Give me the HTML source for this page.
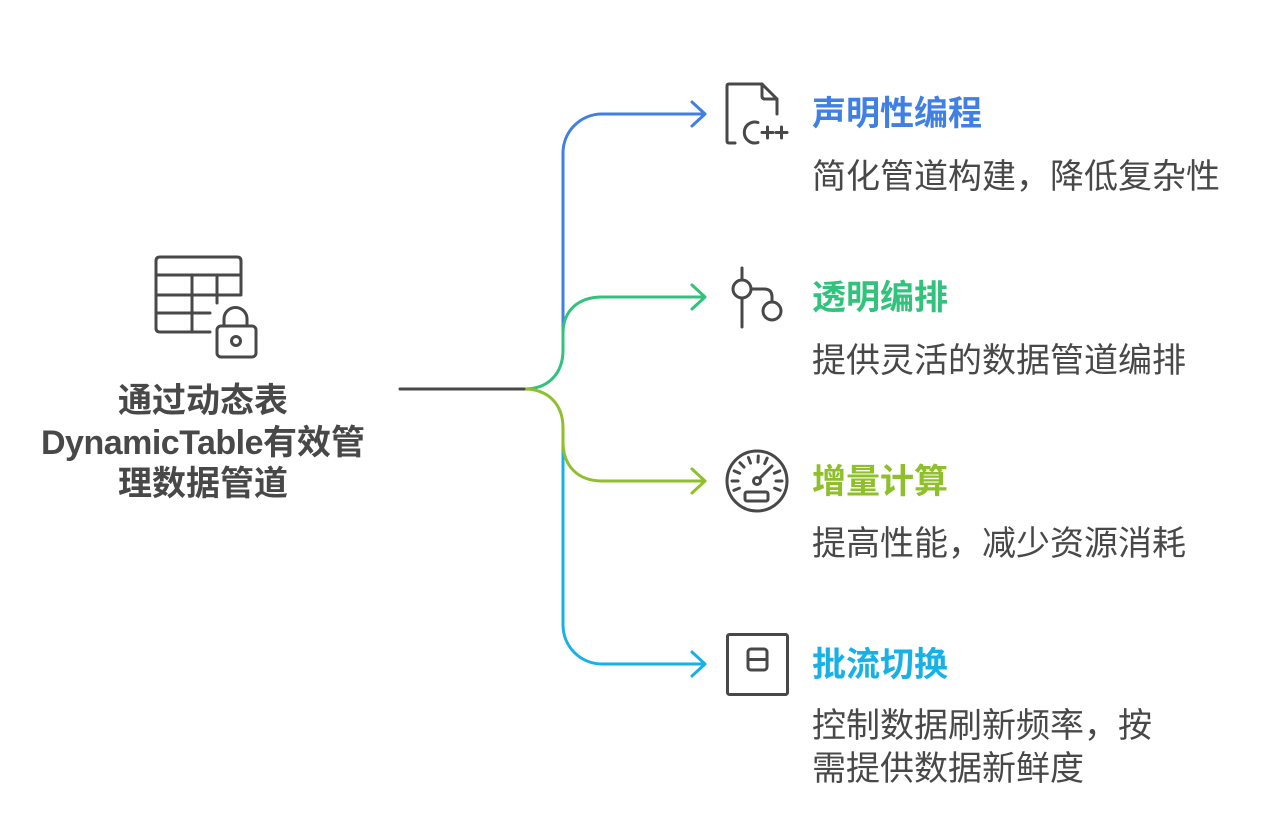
<!DOCTYPE html>
<html>
<head>
<meta charset="utf-8">
<style>
  html, body { margin:0; padding:0; background:#ffffff; }
  body { width:1280px; height:830px; position:relative; overflow:hidden;
         font-family:"Liberation Sans","Noto Sans CJK SC",sans-serif; }
  svg { position:absolute; left:0; top:0; }
  .t { position:absolute; font-size:34px; line-height:34px; white-space:nowrap;
       font-family:"Liberation Sans","Noto Sans CJK SC",sans-serif; }
  .title { font-weight:700; }
  .desc { color:#484848; font-weight:400; line-height:43px; }
  .center { position:absolute; left:23px; width:360px; text-align:center; top:381px;
            font-size:34px; line-height:41.5px; font-weight:700; color:#484848;
            font-family:"Liberation Sans","Noto Sans CJK SC",sans-serif; }
  .lat { letter-spacing:-0.5px; }
</style>
</head>
<body>
<svg width="1280" height="830" viewBox="0 0 1280 830" xmlns="http://www.w3.org/2000/svg">
  <g fill="none" stroke-width="3" stroke-linecap="round" stroke-linejoin="round">
    <path d="M563 345 V153 A39 39 0 0 1 602 114 H704" stroke="#3f80e2"/>
    <path d="M692 102 L705 114 L692 126" stroke="#3f80e2"/>
    <path d="M563 435 V625 A39 39 0 0 0 602 664 H704" stroke="#18b1e6"/>
    <path d="M692 652 L705 664 L692 676" stroke="#18b1e6"/>
    <path d="M524 389 C550 389 563 372 563 350 V333 C563 311 578 297 602 297 H704" stroke="#31c27c"/>
    <path d="M692 285 L705 297 L692 309" stroke="#31c27c"/>
    <path d="M524 389 C550 389 563 406 563 428 V442 C563 466 578 481 602 481 H704" stroke="#8fc02b"/>
    <path d="M692 469 L705 481 L692 493" stroke="#8fc02b"/>
    <path d="M400 389 H524" stroke="#484848"/>
  </g>

  <g fill="none" stroke="#484848" stroke-width="3" stroke-linecap="round" stroke-linejoin="round">
    <path d="M210 332 H160 Q156 332 156 328 V261 Q156 257 160 257 H237 Q241 257 241 261 V293"/>
    <path d="M156 275 H241"/>
    <path d="M156 295 H241"/>
    <path d="M156 313 H210"/>
    <path d="M192 275 V332"/>
    <path d="M217 275 V303"/>
    <rect x="217" y="326" width="39" height="31" rx="4" fill="#fff"/>
    <path d="M224 326 V319 A11.5 11.5 0 0 1 247 319 V326"/>
    <circle cx="236" cy="341" r="4.5"/>

    <path d="M735 143 H729 Q727 143 727 141 V86 Q727 84 729 84 H762 L777 99 V114"/>
    <path d="M762 84 V96 Q762 99 765 99 H777"/>
    <path d="M758 122.5 A10.5 10.5 0 1 0 758 142.5"/>
    <path d="M762 132.5 H773 M767.5 127 V138"/>
    <path d="M776 132.5 H787 M781.5 127 V138"/>

    <path d="M742 268 V327"/>
    <circle cx="742" cy="289" r="9" fill="#fff"/>
    <path d="M751 289 H764 Q772 289 772 297 V302"/>
    <circle cx="772" cy="311" r="9" fill="#fff"/>

    <circle cx="757" cy="481" r="30"/>
    <g transform="translate(757 481)">
      <path d="M0 -19 V-25" transform="rotate(-112)"/>
      <path d="M0 -19 V-25" transform="rotate(-90)"/>
      <path d="M0 -19 V-25" transform="rotate(-66)"/>
      <path d="M0 -19 V-25" transform="rotate(-43)"/>
      <path d="M0 -19 V-25" transform="rotate(-20)"/>
      <path d="M0 -19 V-25" transform="rotate(3)"/>
      <path d="M0 -19 V-25" transform="rotate(24)"/>
      <path d="M0 -19 V-25" transform="rotate(66)"/>
      <path d="M0 -19 V-25" transform="rotate(90)"/>
      <path d="M0 -19 V-25" transform="rotate(112)"/>
    </g>
    <circle cx="757" cy="481" r="3.5"/>
    <path d="M760 478 L772 466"/>
    <rect x="745" y="492" width="23" height="9" rx="2"/>

    <rect x="727.5" y="634.5" width="60" height="60" rx="2"/>
    <rect x="748" y="649" width="19" height="21" rx="3"/>
    <path d="M748 659.5 H767"/>
  </g>
</svg>

<div class="center">通过动态表<br><span class="lat">DynamicTable</span>有效管<br>理数据管道</div>

<div class="t title" style="left:812px; top:97px; color:#3f80e2;">声明性编程</div>
<div class="t desc" style="left:812px; top:156px;">简化管道构建，降低复杂性</div>

<div class="t title" style="left:812px; top:281px; color:#31c27c;">透明编排</div>
<div class="t desc" style="left:812px; top:340px;">提供灵活的数据管道编排</div>

<div class="t title" style="left:812px; top:465px; color:#8fc02b;">增量计算</div>
<div class="t desc" style="left:812px; top:523px;">提高性能，减少资源消耗</div>

<div class="t title" style="left:812px; top:648px; color:#18b1e6;">批流切换</div>
<div class="t desc" style="left:812px; top:705px;">控制数据刷新频率，按<br>需提供数据新鲜度</div>
</body>
</html>
